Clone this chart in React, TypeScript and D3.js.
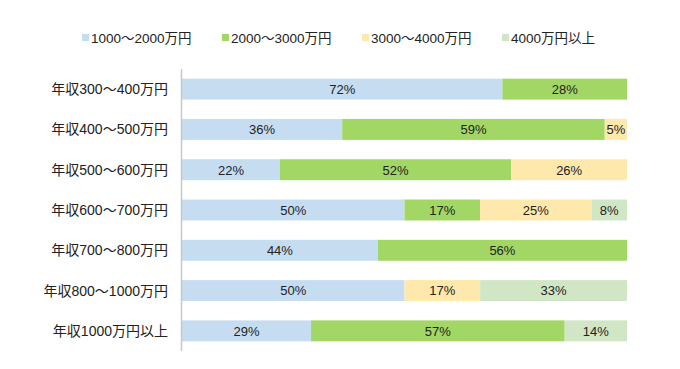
import React from "react";
import * as d3 from "d3";

const categories = [
  "年収300～400万円",
  "年収400～500万円",
  "年収500～600万円",
  "年収600～700万円",
  "年収700～800万円",
  "年収800～1000万円",
  "年収1000万円以上",
];
const seriesNames = ["1000～2000万円", "2000～3000万円", "3000～4000万円", "4000万円以上"];
const s1 = [72, 36, 22, 50, 44, 50, 29];
const s2 = [28, 59, 52, 17, 56, 0, 57];
const s3 = [0, 5, 26, 25, 0, 17, 0];
const s4 = [0, 0, 0, 8, 0, 33, 14];
const colors = ["#c6ddf1", "#a3d765", "#fee8ab", "#d1e6c5"];

export default function App() {
  const W = 680, H = 369;
  const x0 = 182, x1 = 627;
  const x = d3.scaleLinear().domain([0, 100]).range([x0, x1]);
  const y = d3.scaleBand().domain(categories).range([69, 351]).paddingInner(0.48).paddingOuter(0.24);
  const series = [s1, s2, s3, s4];
  const data = categories.map((c, i) => {
    const o: any = { cat: c };
    seriesNames.forEach((n, k) => (o[n] = series[k][i]));
    return o;
  });
  const stacked = d3.stack().keys(seriesNames)(data);
  const legendX = [82, 222, 362, 502];
  const font = "'Liberation Sans', 'Noto Sans CJK JP', Arial, sans-serif";
  return (
    <svg width={W} height={H} style={{ position: "absolute", left: 0, top: 0 }} fontFamily={font}>
      <rect width={W} height={H} fill="#fff" />
      {seriesNames.map((n, k) => (
        <g key={n}>
          <rect x={legendX[k]} y={34} width={7} height={7} fill={colors[k]} />
          <text x={legendX[k] + 9} y={43} fontSize={13.5} fill="#222">
            {n}
          </text>
        </g>
      ))}
      {stacked.map((layer, k) => (
        <g key={k}>
          {layer.map((d, i) => {
            const v = d[1] - d[0];
            if (v <= 0) return null;
            const bx = x(d[0]);
            const bw = x(d[1]) - x(d[0]);
            const yy = y(categories[i])!;
            return (
              <g key={i}>
                <rect x={bx} y={yy} width={bw} height={y.bandwidth()} fill={colors[k]} />
                <text
                  x={bx + bw / 2}
                  y={yy + y.bandwidth() / 2 + 4.8}
                  textAnchor="middle"
                  fontSize={13}
                  fill="#222"
                >
                  {v}%
                </text>
              </g>
            );
          })}
        </g>
      ))}
      <line x1={181.5} x2={181.5} y1={69} y2={351} stroke="#c8c8c8" strokeWidth={1.5} />
      {categories.map((c) => (
        <text
          key={c}
          x={168}
          y={y(c)! + y.bandwidth() / 2 + 5}
          textAnchor="end"
          fontSize={14}
          fill="#222"
        >
          {c}
        </text>
      ))}
    </svg>
  );
}
